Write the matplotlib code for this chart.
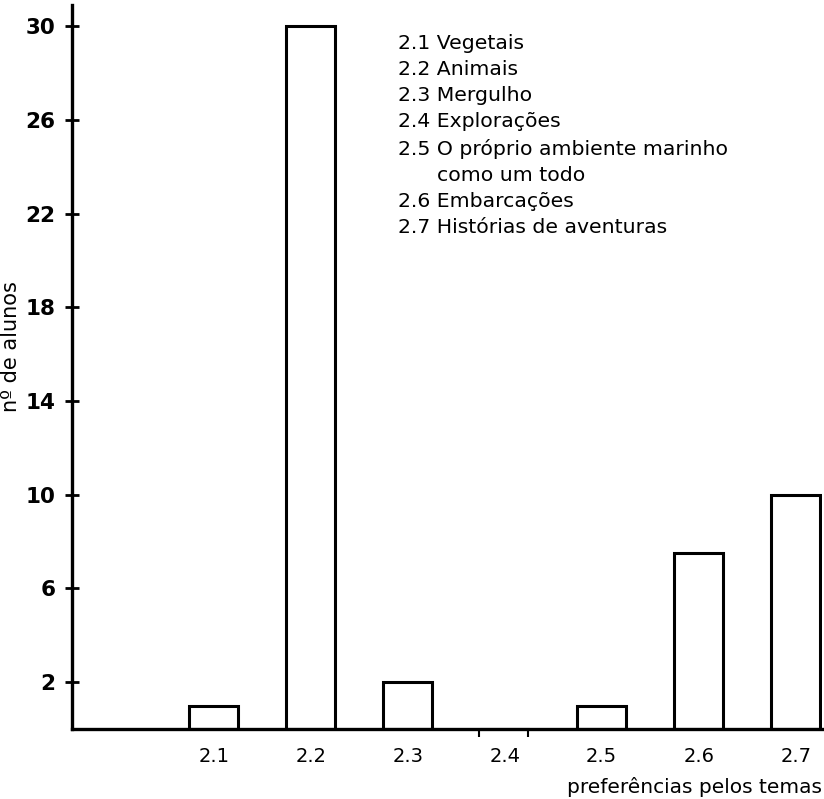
import matplotlib
matplotlib.use('Agg')
import matplotlib.pyplot as plt

# data
temas = ['2.1', '2.2', '2.3', '2.4', '2.5', '2.6', '2.7']
alunos = [1, 30, 2, 0, 1, 7.5, 10]
yticks = [2, 6, 10, 14, 18, 22, 26, 30]
legenda = ['2.1 Vegetais',
           '2.2 Animais',
           '2.3 Mergulho',
           '2.4 Explorações',
           '2.5 O próprio ambiente marinho',
           '      como um todo',
           '2.6 Embarcações',
           '2.7 Histórias de aventuras']

plt.rcParams['font.family'] = ['DejaVu Sans']

fig = plt.figure(figsize=(8.24, 7.99), dpi=100)
ax = fig.add_axes([0.0874, 0.0876, 0.910, 0.906])

pos = list(range(1, len(temas) + 1))
ax.bar(pos, alunos, width=0.5, facecolor='white', edgecolor='black',
       linewidth=2.2)

ax.set_xlim(-0.46, 7.27)
ax.set_ylim(0, 30.9)

for s in ['top', 'right']:
    ax.spines[s].set_visible(False)
for s in ['left', 'bottom']:
    ax.spines[s].set_linewidth(2.4)

ax.set_yticks(yticks)
ax.set_yticklabels([str(v) for v in yticks], fontsize=15.5, fontweight='bold')
ax.tick_params(axis='y', direction='inout', length=10, width=2, pad=7)

ax.set_xticks(pos)
ax.set_xticklabels(temas, fontsize=14)
ax.tick_params(axis='x', length=0, pad=13)
# small marks at the empty 2.4 slot
ax.set_xticks([3.74, 4.24], minor=True)
ax.tick_params(axis='x', which='minor', direction='out', length=6, width=1.5)

ax.set_ylabel('nº de alunos', fontsize=15)
ax.yaxis.set_label_coords(-0.068, 0.529)
ax.text(1.0, -0.088, 'preferências pelos temas', transform=ax.transAxes,
        ha='right', va='baseline', fontsize=14.5)

ax.text(0.435, 0.960, '\n'.join(legenda), transform=ax.transAxes,
        ha='left', va='top', fontsize=14.7, linespacing=1.47)

plt.savefig('out.png', dpi=100, facecolor='w')
